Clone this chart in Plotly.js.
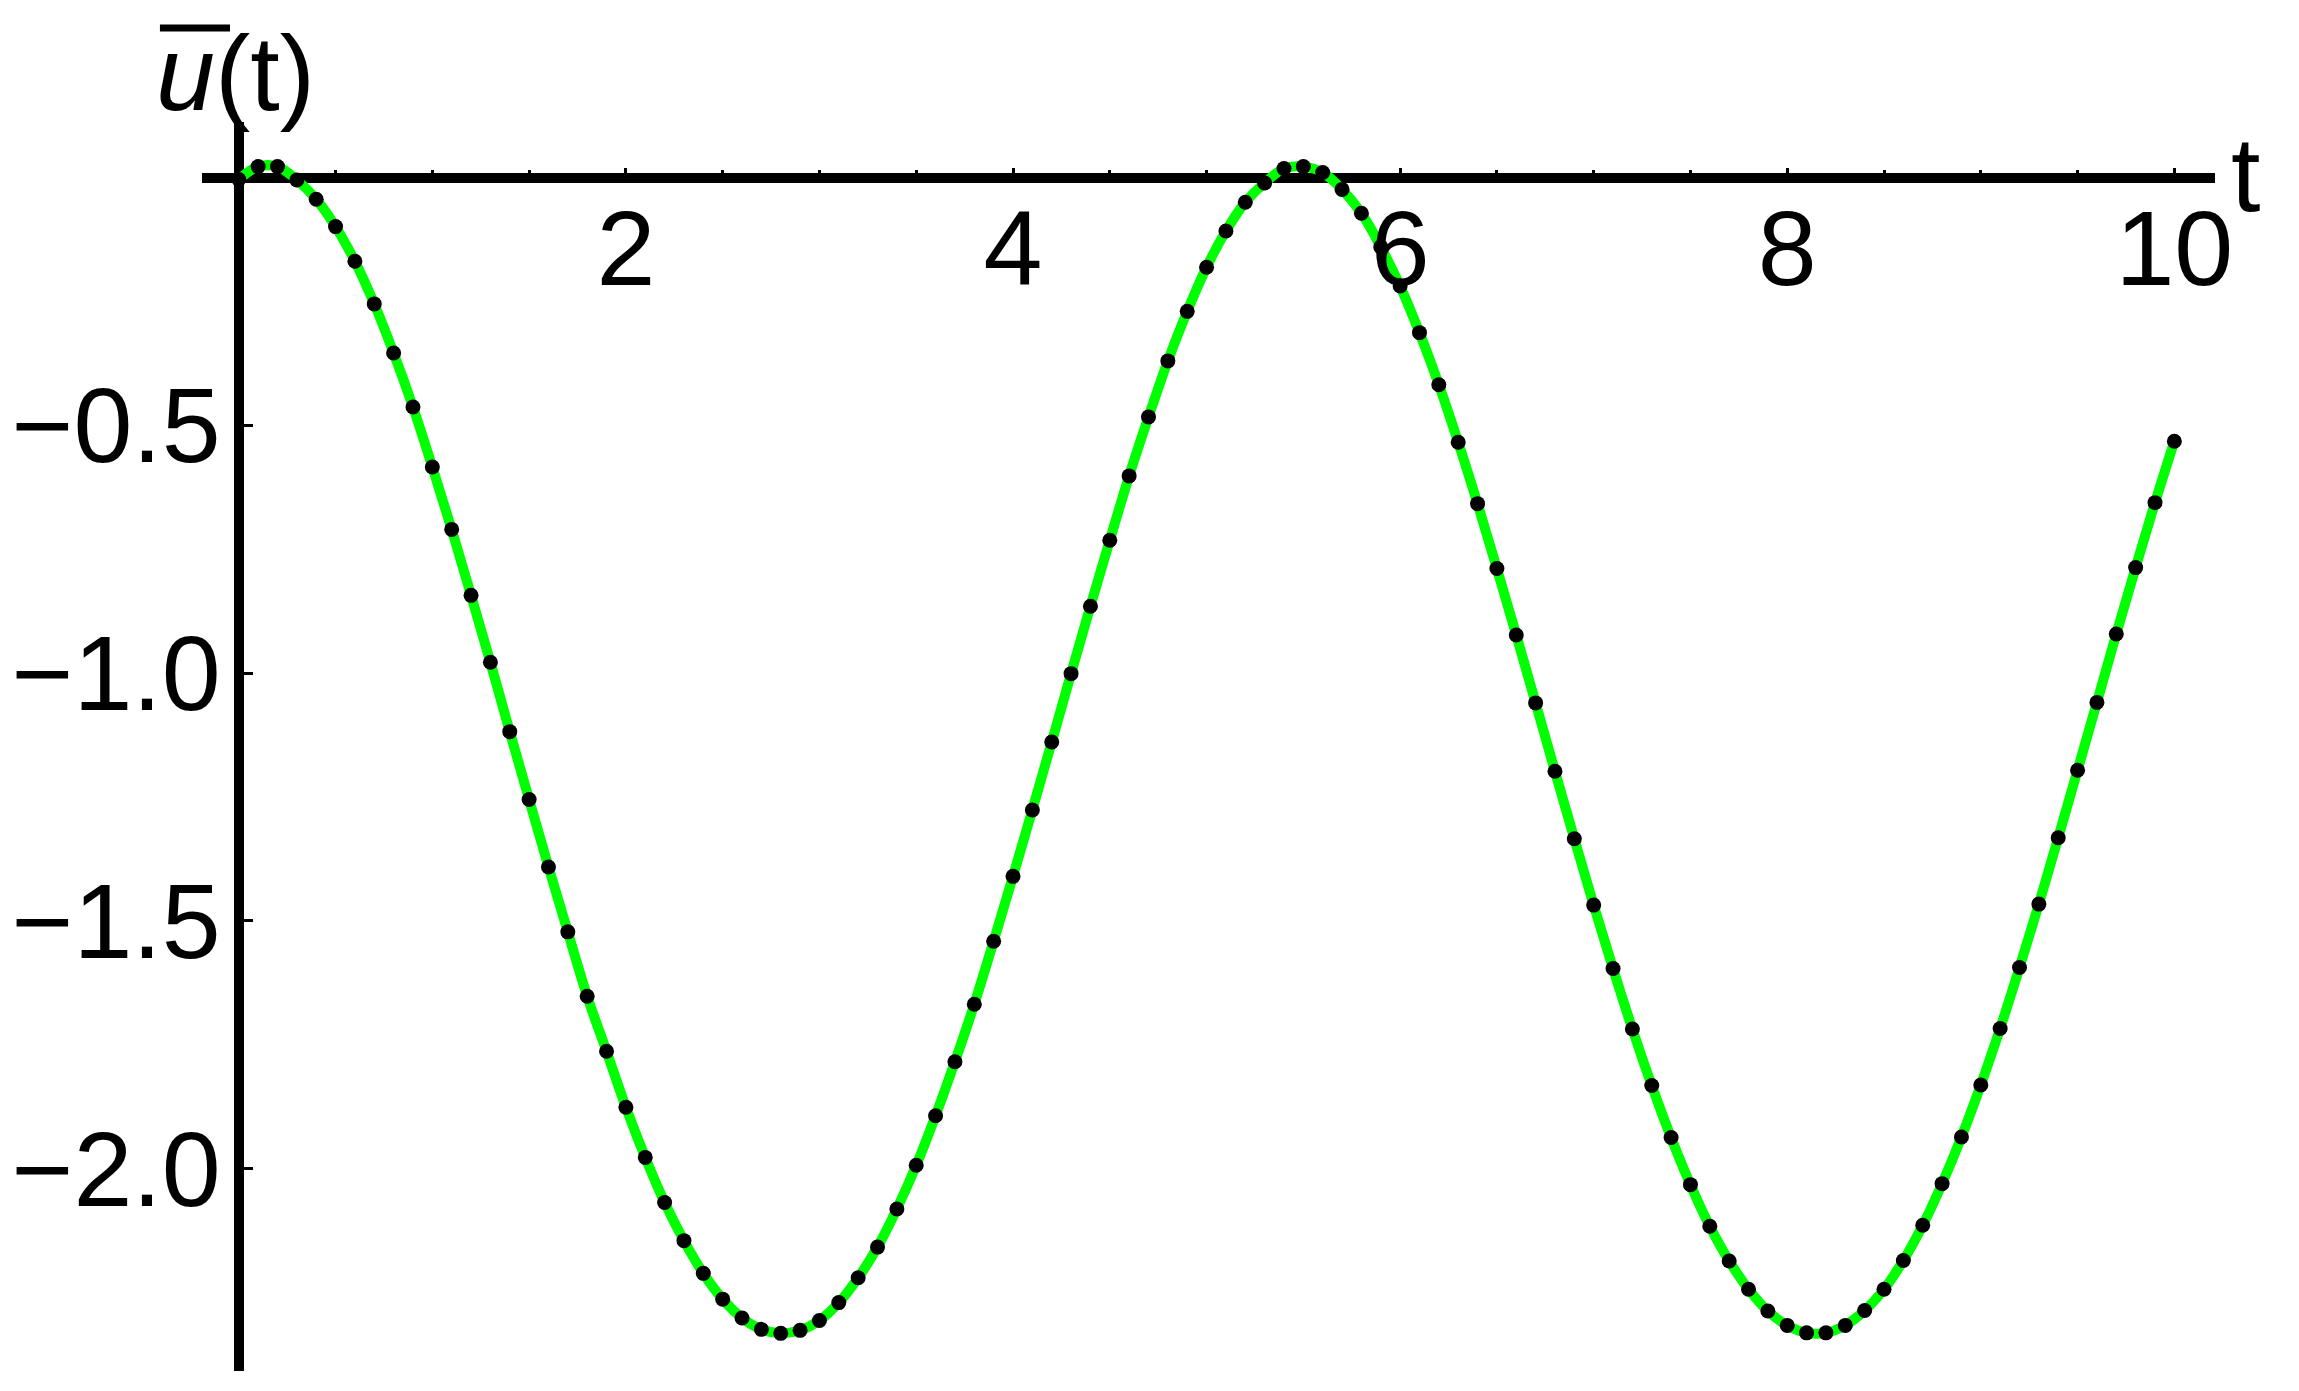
<!DOCTYPE html>
<html lang="en">
<head>
    <meta charset="UTF-8"/>
    <title>u(t)</title>
    <script src="https://cdn.plot.ly/plotly-3.0.1.min.js"></script>
    <style>
    html, body {
        margin: 0;
        padding: 0;
        background: white;
    }
    </style>
</head>
<body>
    <div id="plot" style="width:2299px;height:1391px;"></div>

    <script>
        //=============================================================
        // Data (sample step 0.1)

        var tVals = [
            0.0, 0.1, 0.2, 0.3, 0.4, 0.5, 0.6, 0.7, 0.8, 0.9,
            1.0, 1.1, 1.2, 1.3, 1.4, 1.5, 1.6, 1.7, 1.8, 1.9,
            2.0, 2.1, 2.2, 2.3, 2.4, 2.5, 2.6, 2.7, 2.8, 2.9,
            3.0, 3.1, 3.2, 3.3, 3.4, 3.5, 3.6, 3.7, 3.8, 3.9,
            4.0, 4.1, 4.2, 4.3, 4.4, 4.5, 4.6, 4.7, 4.8, 4.9,
            5.0, 5.1, 5.2, 5.3, 5.4, 5.5, 5.6, 5.7, 5.8, 5.9,
            6.0, 6.1, 6.2, 6.3, 6.4, 6.5, 6.6, 6.7, 6.8, 6.9,
            7.0, 7.1, 7.2, 7.3, 7.4, 7.5, 7.6, 7.7, 7.8, 7.9,
            8.0, 8.1, 8.2, 8.3, 8.4, 8.5, 8.6, 8.7, 8.8, 8.9,
            9.0, 9.1, 9.2, 9.3, 9.4, 9.5, 9.6, 9.7, 9.8, 9.9,
            10.0
        ];

        var uVals = [
            -0.004, 0.022, 0.022, -0.005, -0.044, -0.099, -0.169, -0.255, -0.354, -0.463,
            -0.584, -0.710, -0.843, -0.978, -1.118, -1.255, -1.391, -1.522, -1.652, -1.763,
            -1.876, -1.977, -2.068, -2.145, -2.211, -2.263, -2.301, -2.324, -2.332, -2.326,
            -2.306, -2.270, -2.220, -2.158, -2.081, -1.993, -1.893, -1.784, -1.668, -1.541,
            -1.410, -1.276, -1.139, -1.001, -0.865, -0.732, -0.602, -0.483, -0.370, -0.270,
            -0.181, -0.108, -0.050, -0.011, 0.018, 0.022, 0.010, -0.024, -0.072, -0.140,
            -0.219, -0.313, -0.418, -0.534, -0.658, -0.789, -0.923, -1.060, -1.198, -1.334,
            -1.468, -1.596, -1.718, -1.832, -1.937, -2.032, -2.116, -2.186, -2.243, -2.287,
            -2.316, -2.331, -2.331, -2.316, -2.286, -2.243, -2.185, -2.114, -2.030, -1.936,
            -1.831, -1.717, -1.594, -1.466, -1.332, -1.196, -1.059, -0.921, -0.787, -0.656,
            -0.532
        ];

        var xTickVals = [2, 4, 6, 8, 10];
        var xMinorVals = [0.5, 1, 1.5, 2.5, 3, 3.5, 4.5, 5, 5.5, 6.5, 7, 7.5, 8.5, 9, 9.5];
        var yTickVals = [-0.5, -1.0, -1.5, -2.0];
        var yTickText = ['\u22120.5', '\u22121.0', '\u22121.5', '\u22122.0'];

        var xRange = [-0.19, 10.21];
        var yRange = [-2.408, 0.112];

        //=============================================================
        // Axes cross at the origin

        var xAxisPos = (0 - yRange[0]) / (yRange[1] - yRange[0]);
        var yAxisPos = (0 - xRange[0]) / (xRange[1] - xRange[0]);

        var font = { family: '"Liberation Sans", Arial, Helvetica, sans-serif', color: 'black' };

        var curve = {
            x: tVals,
            y: uVals,
            type: 'scatter',
            mode: 'lines',
            line: { color: '#00ff00', width: 10, shape: 'spline' },
            hoverinfo: 'none'
        };

        var dots = {
            x: tVals,
            y: uVals,
            type: 'scatter',
            mode: 'markers',
            marker: { color: 'black', size: 15 },
            hoverinfo: 'none'
        };

        var layout = {
            width: 2299,
            height: 1391,
            margin: { l: 202, r: 84, t: 122, b: 20 },
            paper_bgcolor: 'white',
            plot_bgcolor: 'white',
            showlegend: false,
            font: font,
            xaxis: {
                range: xRange,
                anchor: 'free',
                position: xAxisPos,
                showgrid: false,
                showline: false,
                zeroline: true,
                zerolinecolor: 'black',
                zerolinewidth: 10,
                tickmode: 'array',
                tickvals: xTickVals,
                ticks: 'inside',
                ticklen: 10,
                tickwidth: 3,
                tickcolor: 'black',
                ticklabelstandoff: 0,
                tickfont: { family: font.family, size: 106, color: 'black' },
                minor: {
                    tickmode: 'array',
                    tickvals: xMinorVals,
                    ticks: 'inside',
                    ticklen: 8,
                    tickwidth: 3,
                    tickcolor: 'black',
                    showgrid: false
                }
            },
            yaxis: {
                range: yRange,
                anchor: 'free',
                position: yAxisPos,
                showgrid: false,
                showline: false,
                zeroline: true,
                zerolinecolor: 'black',
                zerolinewidth: 10,
                tickmode: 'array',
                tickvals: yTickVals,
                ticktext: yTickText,
                ticks: 'inside',
                ticklen: 13,
                tickwidth: 3,
                tickcolor: 'black',
                ticklabelstandoff: 18,
                tickfont: { family: font.family, size: 106, color: 'black' }
            },
            annotations: [
                {
                    text: 't',
                    xref: 'paper', yref: 'y',
                    x: 1, y: 0,
                    xanchor: 'left', yanchor: 'middle',
                    xshift: 14, yshift: 4,
                    showarrow: false,
                    font: { family: font.family, size: 106, color: 'black' }
                },
                {
                    text: '<i>u</i>(t)',
                    xref: 'paper', yref: 'paper',
                    x: -0.024, y: 1.0,
                    xanchor: 'left', yanchor: 'bottom',
                    yshift: -12,
                    showarrow: false,
                    font: { family: font.family, size: 106, color: 'black' }
                }
            ],
            shapes: [
                // bar over the u
                {
                    type: 'line',
                    xref: 'paper', yref: 'paper',
                    x0: -0.0209, x1: 0.0139,
                    y0: 1.0753, y1: 1.0753,
                    line: { color: 'black', width: 7 }
                }
            ]
        };

        Plotly.newPlot('plot', [curve, dots], layout, { staticPlot: true, displayModeBar: false });
    </script>
</body>
</html>
